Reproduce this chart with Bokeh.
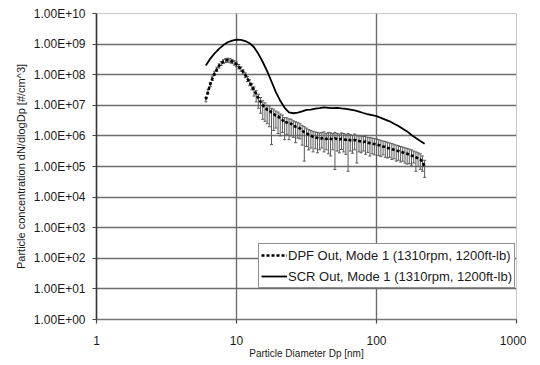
from bokeh.plotting import figure
from bokeh.models import (FixedTicker, CustomJSTickFormatter, Whisker, ColumnDataSource,
                          Legend, LegendItem, TeeHead, Range1d)
from bokeh.embed import file_html
from bokeh.resources import INLINE

# ---------------- data ----------------
# DPF Out: SMPS channels
dpf_diameter_nm = [6.04, 6.26, 6.49, 6.73, 6.98, 7.24, 7.50, 7.78, 8.06, 8.36,
                   8.66, 8.98, 9.31, 9.65, 10.0, 10.37, 10.75, 11.14, 11.55, 11.97,
                   12.41, 12.87, 13.34, 13.83, 14.33, 14.86, 15.40, 15.97, 16.55, 17.15,
                   17.78, 18.43, 19.11, 19.81, 20.54, 21.29, 22.07, 22.88, 23.71, 24.58,
                   25.48, 26.42, 27.38, 28.39, 29.43, 30.51, 31.62, 32.78, 33.98, 35.22,
                   36.52, 37.86, 39.24, 40.68, 42.17, 43.72, 45.32, 46.98, 48.70, 50.48,
                   52.33, 54.25, 56.23, 58.29, 60.43, 62.65, 64.94, 67.32, 69.78, 72.34,
                   74.99, 77.74, 80.58, 83.54, 86.60, 89.77, 93.06, 96.47, 100.0, 103.7,
                   107.5, 111.4, 115.5, 119.7, 124.1, 128.7, 133.4, 138.3, 143.3, 148.6,
                   154.0, 159.7, 165.5, 171.5, 177.8, 184.3, 191.1, 198.1, 205.4, 212.9,
                   220.7]

dpf_out = [1.55e7, 2.8e7, 4.8e7, 7.6e7, 1.12e8, 1.5e8, 1.95e8, 2.35e8, 2.7e8, 2.95e8,
           3.0e8, 2.9e8, 2.7e8, 2.45e8, 2.2e8, 1.85e8, 1.55e8, 1.25e8, 9.8e7, 7.4e7,
           5.6e7, 4.2e7, 3.1e7, 2.3e7, 1.7e7, 1.3e7, 1.0e7, 8.5e6, 7.2e6, 7.0e6,
           5.8e6, 5.2e6, 4.6e6, 4.4e6, 3.7e6, 3.3e6, 2.7e6, 2.8e6, 2.5e6, 2.5e6,
           2.15e6, 2.0e6, 1.95e6, 1.75e6, 1.48e6, 1.32e6, 1.23e6, 1.1e6, 1.02e6, 9.3e5,
           8.9e5, 8.5e5, 8.1e5, 8.3e5, 8.7e5, 7.9e5, 8.5e5, 8.1e5, 7.8e5, 8.3e5,
           7.9e5, 7.6e5, 8.1e5, 7.8e5, 7.4e5, 7.9e5, 7.2e5, 7.1e5, 7.4e5, 6.9e5,
           6.8e5, 6.6e5, 6.3e5, 6.5e5, 6.0e5, 5.8e5, 5.6e5, 5.4e5, 5.2e5, 5.0e5,
           4.8e5, 4.5e5, 4.4e5, 4.1e5, 3.9e5, 3.7e5, 3.5e5, 3.3e5, 3.2e5, 3.0e5,
           2.9e5, 2.7e5, 2.6e5, 2.45e5, 2.3e5, 2.15e5, 2.0e5, 1.85e5, 1.7e5, 1.4e5,
           1.0e5]

dpf_low = [1.3e7, 2.4e7, 4.1e7, 6.5e7, 9.5e7, 1.28e8, 1.65e8, 2.0e8, 2.3e8, 2.5e8,
           2.55e8, 2.45e8, 2.3e8, 2.05e8, 1.85e8, 1.55e8, 1.3e8, 1.05e8, 8.0e7, 6.0e7,
           4.4e7, 3.2e7, 2.0e7, 1.3e7, 8.0e6, 5.5e6, 3.5e6, 3.0e6, 2.5e6, 2.0e6,
           5.2e5, 1.5e6, 1.8e6, 1.2e6, 1.0e6, 1.3e6, 7.5e5, 1.1e6, 7.5e5, 1.0e6,
           9.0e5, 6.0e5, 8.5e5, 8.0e5, 5.0e5, 1.5e5, 4.5e5, 3.5e5, 4.0e5, 3.0e5,
           3.8e5, 2.8e5, 3.5e5, 4.0e5, 3.0e5, 3.5e5, 2.6e5, 2.2e5, 3.5e5, 8.0e4,
           3.2e5, 2.8e5, 3.6e5, 3.0e5, 2.5e5, 7.0e4, 3.2e5, 2.7e5, 3.5e5, 1.3e5,
           3.0e5, 2.8e5, 3.2e5, 2.5e5, 2.9e5, 2.2e5, 2.6e5, 2.4e5, 1.0e5, 2.3e5,
           2.1e5, 2.4e5, 2.0e5, 1.9e5, 2.0e5, 1.7e5, 1.8e5, 1.5e5, 1.6e5, 1.4e5,
           1.5e5, 1.3e5, 1.2e5, 1.25e5, 1.1e5, 1.3e5, 7.0e4, 1.0e5, 8.0e4, 7.0e4,
           4.4e4]

dpf_high = [1.8e7, 3.3e7, 5.6e7, 9.0e7, 1.3e8, 1.75e8, 2.25e8, 2.7e8, 3.1e8, 3.4e8,
            3.45e8, 3.35e8, 3.1e8, 2.85e8, 2.55e8, 2.15e8, 1.8e8, 1.45e8, 1.15e8, 8.8e7,
            6.8e7, 5.2e7, 4.0e7, 3.0e7, 2.3e7, 1.8e7, 1.4e7, 1.2e7, 1.0e7, 9.5e6,
            8.0e6, 7.5e6, 6.5e6, 6.0e6, 5.2e6, 4.8e6, 4.0e6, 3.9e6, 3.6e6, 3.5e6,
            3.1e6, 2.9e6, 2.7e6, 2.5e6, 2.2e6, 2.0e6, 1.8e6, 1.6e6, 1.5e6, 1.4e6,
            1.35e6, 1.3e6, 1.25e6, 1.3e6, 1.35e6, 1.2e6, 1.3e6, 1.25e6, 1.2e6, 1.3e6,
            1.2e6, 1.15e6, 1.25e6, 1.2e6, 1.1e6, 1.2e6, 1.1e6, 1.05e6, 1.15e6, 1.05e6,
            1.0e6, 1.0e6, 9.5e5, 1.0e6, 9.0e5, 8.8e5, 8.5e5, 8.2e5, 8.0e5, 7.5e5,
            7.2e5, 6.8e5, 6.6e5, 6.2e5, 5.9e5, 5.6e5, 5.3e5, 5.0e5, 4.8e5, 4.5e5,
            4.3e5, 4.1e5, 3.9e5, 3.7e5, 3.5e5, 3.2e5, 3.0e5, 2.8e5, 2.6e5, 2.2e5,
            1.6e5]

# SCR Out
scr_diameter_nm = [6.04, 6.49, 6.98, 7.50, 8.06, 8.66, 9.31, 10.0, 10.75, 11.55,
                   12.41, 13.34, 14.33, 15.40, 16.55, 17.78, 19.11, 20.54, 22.07, 23.71,
                   25.48, 27.38, 29.43, 31.62, 33.98, 36.52, 39.24, 42.17, 45.32, 48.70,
                   52.33, 56.23, 60.43, 64.94, 69.78, 74.99, 80.58, 86.60, 93.06, 100.0,
                   107.5, 115.5, 124.1, 133.4, 143.3, 154.0, 165.5, 177.8, 191.1, 205.4,
                   220.7]

scr_out = [2.0e8, 3.3e8, 5.0e8, 7.0e8, 9.3e8, 1.15e9, 1.3e9, 1.4e9, 1.38e9, 1.26e9,
           1.07e9, 7.9e8, 4.8e8, 2.6e8, 1.3e8, 6.0e7, 2.7e7, 1.4e7, 8.3e6, 5.9e6,
           5.5e6, 5.8e6, 6.3e6, 7.1e6, 7.2e6, 7.8e6, 8.1e6, 8.5e6, 8.3e6, 8.1e6,
           8.3e6, 7.9e6, 7.6e6, 7.2e6, 6.8e6, 6.2e6, 5.6e6, 5.1e6, 4.8e6, 4.4e6,
           3.9e6, 3.4e6, 3.0e6, 2.5e6, 2.1e6, 1.7e6, 1.4e6, 1.07e6, 8.5e5, 6.8e5,
           5.5e5]

x_ticks = [1, 10, 100, 1000]
x_grid_ticks = [10, 100]
y_ticks = [1, 1e1, 1e2, 1e3, 1e4, 1e5, 1e6, 1e7, 1e8, 1e9, 1e10]

series_labels = ["DPF Out, Mode 1 (1310rpm, 1200ft-lb)",
                 "SCR Out, Mode 1 (1310rpm, 1200ft-lb)"]
x_title = "Particle Diameter Dp [nm]"
y_title = "Particle concentration dN/dlogDp [#/cm^3]"

FONT = "Liberation Sans"

# ---------------- figure ----------------
p = figure(frame_width=420, frame_height=306,
           x_axis_type="log", y_axis_type="log",
           x_range=Range1d(1, 1000), y_range=Range1d(1, 1e10),
           output_backend="svg", toolbar_location=None,
           min_border_left=96, min_border_right=10,
           min_border_top=13, min_border_bottom=37,
           background_fill_color="white", border_fill_color="white")

p.outline_line_color = "#c8c8c8"
p.outline_line_width = 1

# grid
p.xgrid.ticker = FixedTicker(ticks=x_grid_ticks, minor_ticks=[])
p.ygrid.ticker = FixedTicker(ticks=y_ticks, minor_ticks=[])
for g in (p.xgrid, p.ygrid):
    g.grid_line_color = "#6e6e6e"
    g.grid_line_width = 1.4
    g.minor_grid_line_color = None

# axes
p.xaxis.ticker = FixedTicker(ticks=x_ticks, minor_ticks=[])
p.yaxis.ticker = FixedTicker(ticks=y_ticks, minor_ticks=[])
p.xaxis.formatter = CustomJSTickFormatter(code="return String(Math.round(tick));")
p.yaxis.formatter = CustomJSTickFormatter(code="""
const e = Math.round(Math.log10(tick));
const a = Math.abs(e);
return '1.00E' + (e < 0 ? '-' : '+') + (a < 10 ? '0' : '') + a;
""")
for ax in (p.xaxis, p.yaxis):
    ax.major_label_text_font = FONT
    ax.major_label_text_font_size = "12px"
    ax.major_label_text_color = "#1a1a1a"
    ax.axis_label_text_font = FONT
    ax.axis_label_text_font_style = "normal"
    ax.axis_label_text_color = "#1a1a1a"
    ax.major_tick_in = 0
    ax.major_tick_out = 4
    ax.minor_tick_line_color = None
    ax.major_tick_line_color = "#444444"
    ax.major_tick_line_width = 1.2

p.yaxis.axis_label_text_font_size = "11px"
p.xaxis.axis_label_text_font_size = "10px"
p.yaxis.axis_line_color = "#333333"
p.yaxis.axis_line_width = 1.6
p.xaxis.axis_line_color = "#777777"
p.xaxis.axis_line_width = 1.4
p.yaxis.axis_label = y_title
p.xaxis.axis_label = x_title
p.yaxis.major_label_standoff = 7
p.yaxis.axis_label_standoff = 4
p.xaxis.major_label_standoff = 12
p.xaxis.axis_label_standoff = 0

# error bars of DPF
dpf_src = ColumnDataSource(data=dict(d=dpf_diameter_nm, v=dpf_out, lo=dpf_low, hi=dpf_high))
scr_src = ColumnDataSource(data=dict(d=scr_diameter_nm, v=scr_out))
whisk = Whisker(source=dpf_src, base="d", lower="lo", upper="hi",
                line_color="#5a5a5a", line_width=1,
                lower_head=TeeHead(size=3, line_color="#5a5a5a", line_width=1),
                upper_head=TeeHead(size=3, line_color="#5a5a5a", line_width=1))
p.add_layout(whisk)

# series
dpf_r = p.line("d", "v", source=dpf_src, line_color="black", line_width=2.6,
               line_dash="3 2", line_cap="butt")
scr_r = p.line("d", "v", source=scr_src, line_color="black", line_width=1.8)

legend = Legend(items=[LegendItem(label=series_labels[0], renderers=[dpf_r]),
                       LegendItem(label=series_labels[1], renderers=[scr_r])],
                location=(162, 31))
legend.label_text_font = FONT
legend.label_text_font_size = "13px"
legend.label_text_color = "#1a1a1a"
legend.border_line_color = "#222222"
legend.border_line_width = 1
legend.background_fill_color = "white"
legend.background_fill_alpha = 1
legend.padding = 2
legend.spacing = 3
legend.margin = 0
legend.glyph_width = 26
legend.glyph_height = 18
legend.label_height = 18
legend.label_standoff = 1
p.add_layout(legend)

open("out.html", "w").write(file_html(p, INLINE))
